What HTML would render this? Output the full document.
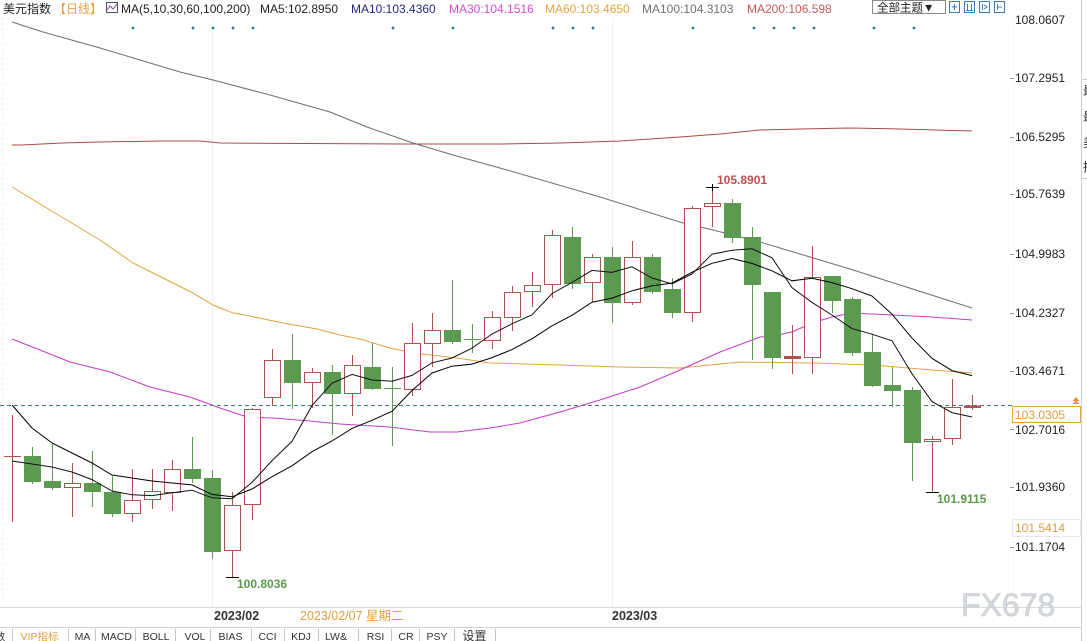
<!DOCTYPE html>
<html><head><meta charset="utf-8">
<style>
html,body{margin:0;padding:0;background:#fff;}
svg{display:block;}
text{font-family:"Liberation Sans","Noto Sans CJK SC",sans-serif;}
.r line,.r path{stroke:#b0524c;stroke-width:1;fill:none;}
.r rect{fill:#fff;stroke:#b0524c;stroke-width:1;}
.g line,.g path{stroke:#5c9a52;stroke-width:1;fill:none;}
.g rect{fill:#5c9a52;stroke:#5c9a52;stroke-width:1;}
.tab{font-family:"Liberation Mono","Noto Sans CJK SC",monospace;font-size:10.5px;fill:#333;}
</style></head>
<body>
<svg width="1087" height="641" viewBox="0 0 1087 641" xmlns="http://www.w3.org/2000/svg">
<rect width="1087" height="641" fill="#fff"/>

<!-- faint grid / separators -->
<line x1="2.5" y1="18" x2="2.5" y2="607" stroke="#e8e8e8" stroke-dasharray="2,3"/>
<line x1="212.5" y1="18" x2="212.5" y2="607" stroke="#f0f0f0"/>
<line x1="612.5" y1="18" x2="612.5" y2="607" stroke="#f0f0f0"/>
<line x1="1013.5" y1="18" x2="1013.5" y2="607" stroke="#e2e2e2" stroke-dasharray="1,3"/>

<!-- header -->
<text x="3" y="13" font-size="12" fill="#222">美元指数</text>
<text x="54" y="13" font-size="12" fill="#e8a040">【日线】</text>
<rect x="106.5" y="2.5" width="11" height="10" fill="#fff" stroke="#5a4a6a"/>
<polyline points="107,10 110,6 113,9 117,4" fill="none" stroke="#8a4a9a" stroke-width="1"/>
<text x="121" y="13" font-size="12" fill="#222">MA(5,10,30,60,100,200)</text>
<text x="260" y="13" font-size="12" fill="#222">MA5:102.8950</text>
<text x="351" y="13" font-size="12" fill="#25258a">MA10:103.4360</text>
<text x="449" y="13" font-size="12" fill="#d64cd6">MA30:104.1516</text>
<text x="545" y="13" font-size="12" fill="#e6a33e">MA60:103.4650</text>
<text x="642" y="13" font-size="12" fill="#707070">MA100:104.3103</text>
<text x="747" y="13" font-size="12" fill="#c85a5a">MA200:106.598</text>

<!-- top right buttons -->
<rect x="872.5" y="0.5" width="73" height="13" fill="#fff" stroke="#888"/>
<text x="877" y="11.5" font-size="11.5" fill="#222">全部主题▼</text>
<g fill="#fff" stroke="#3a7ab8">
<rect x="949.5" y="1.5" width="10" height="11"/>
<rect x="964.5" y="1.5" width="10" height="11"/>
<rect x="979.5" y="1.5" width="10" height="11"/>
<rect x="994.5" y="1.5" width="10" height="11"/>
</g>
<g stroke="#3a7ab8" stroke-width="1">
<line x1="952" y1="7" x2="957" y2="7"/><line x1="954.5" y1="4" x2="954.5" y2="10"/>
<line x1="967.5" y1="4" x2="967.5" y2="10"/><line x1="971.5" y1="4" x2="971.5" y2="10"/><line x1="966" y1="10.5" x2="973" y2="10.5"/>
<line x1="982.5" y1="4" x2="982.5" y2="10"/><polyline points="984,5 987,7 984,9" fill="none"/>
<line x1="997.5" y1="4" x2="997.5" y2="10"/><line x1="998" y1="7" x2="1002" y2="7"/>
</g>

<!-- event dots -->
<g fill="#2a7a9a">
<circle cx="133" cy="28" r="1.4"/><circle cx="193" cy="28" r="1.4"/><circle cx="213" cy="28" r="1.4"/><circle cx="233" cy="28" r="1.4"/><circle cx="253" cy="28" r="1.4"/><circle cx="393" cy="28" r="1.4"/><circle cx="453" cy="28" r="1.4"/><circle cx="553" cy="28" r="1.4"/><circle cx="573" cy="28" r="1.4"/><circle cx="593" cy="28" r="1.4"/><circle cx="693" cy="28" r="1.4"/><circle cx="754" cy="28" r="1.4"/><circle cx="774" cy="28" r="1.4"/><circle cx="794" cy="28" r="1.4"/><circle cx="814" cy="28" r="1.4"/><circle cx="874" cy="28" r="1.4"/><circle cx="914" cy="28" r="1.4"/>
</g>

<!-- MA200 -->
<polyline fill="none" stroke="#a84a44" stroke-width="1" points="12,145 22,145 62,143 100,142 163,141 200,141 220,143 400,144 500,144 560,143 620,141 680,137 720,134 760,130 800,129 850,128 900,129 972,131"/>
<!-- MA100 -->
<polyline fill="none" stroke="#6e6e6e" stroke-width="1" points="12,22 43,32 100,48 130,57 180,72 213,80 270,95 330,112 367,127 413,143 453,155 507,170 600,197 683,223 713,230 760,242 800,254 850,269 900,285 972,308"/>
<!-- MA60 -->
<polyline fill="none" stroke="#e2a23e" stroke-width="1" points="12,187 50,210 100,240 133,263 153,273 193,293 213,305 233,313 240,314 283,323 317,329 340,335 360,339 390,348 413,353 457,358 490,363 560,365 620,367 680,368 740,362 812,363 872,365 932,370 972,373"/>
<!-- MA30 -->
<polyline fill="none" stroke="#c63cc6" stroke-width="1" points="12,339 40,350 70,362 110,372 150,387 190,397 220,408 247,417 273,418 310,421 340,424 390,427 430,432 457,432 490,428 520,423 560,412 600,400 640,387 680,370 720,352 760,337 772,336 792,332 812,323 832,317 852,313 892,315 932,317 972,320"/>

<!-- last price dashed line -->
<line x1="0" y1="405.5" x2="1012" y2="405.5" stroke="#3a7a90" stroke-dasharray="4,3"/>

<!-- candles -->
<g class="r" shape-rendering="crispEdges">
<path d="M12.5 415V522"/><line x1="4" y1="456.5" x2="21" y2="456.5"/>
<path d="M72.5 463V517"/><rect x="64.5" y="483.5" width="16" height="4"/>
<path d="M132.5 469V522"/><rect x="124.5" y="500.5" width="16" height="13"/>
<path d="M152.5 469V509"/><rect x="144.5" y="491.5" width="16" height="8"/>
<path d="M172.5 460V511"/><rect x="164.5" y="469.5" width="16" height="23"/>
<path d="M232.5 492V577"/><rect x="224.5" y="505.5" width="16" height="45"/>
<path d="M252.5 408V520"/><rect x="244.5" y="409.5" width="16" height="95"/>
<path d="M272.5 349V406"/><rect x="264.5" y="360.5" width="16" height="37"/>
<path d="M312.5 368V408"/><rect x="304.5" y="372.5" width="16" height="10"/>
<path d="M352.5 355V416"/><rect x="344.5" y="365.5" width="16" height="28"/>
<path d="M412.5 323V396"/><rect x="404.5" y="343.5" width="16" height="46"/>
<path d="M432.5 313V367"/><rect x="424.5" y="330.5" width="16" height="13"/>
<path d="M492.5 311V349"/><rect x="484.5" y="317.5" width="16" height="23"/>
<path d="M512.5 286V331"/><rect x="504.5" y="292.5" width="16" height="25"/>
<path d="M532.5 272V307"/><rect x="524.5" y="285.5" width="16" height="6"/>
<path d="M552.5 230V298"/><rect x="544.5" y="235.5" width="16" height="49"/>
<path d="M592.5 254V302"/><rect x="584.5" y="257.5" width="16" height="25"/>
<path d="M632.5 241V305"/><rect x="624.5" y="257.5" width="16" height="45"/>
<path d="M692.5 206V322"/><rect x="684.5" y="208.5" width="16" height="104"/>
<path d="M712.5 187V227"/><rect x="704.5" y="203.5" width="16" height="3"/>
<path d="M792.5 325V374"/><rect x="784.5" y="356.5" width="16" height="2" style="fill:#b0524c"/>
<path d="M812.5 246V374"/><rect x="804.5" y="277.5" width="16" height="80"/>
<path d="M932.5 436V492"/><rect x="924.5" y="439.5" width="16" height="2"/>
<path d="M952.5 379V445"/><rect x="944.5" y="407.5" width="16" height="31"/>
<path d="M972.5 395V410"/><rect x="964.5" y="406" width="16" height="1.5" style="fill:#b0524c"/>
</g>
<g class="g" shape-rendering="crispEdges">
<path d="M32.5 447V484"/><rect x="24.5" y="456.5" width="16" height="25"/>
<path d="M52.5 444V490"/><rect x="44.5" y="481.5" width="16" height="6"/>
<path d="M92.5 451V507"/><rect x="84.5" y="483.5" width="16" height="8"/>
<path d="M112.5 476V517"/><rect x="104.5" y="492.5" width="16" height="21"/>
<path d="M192.5 437V483"/><rect x="184.5" y="469.5" width="16" height="9"/>
<path d="M212.5 470V559"/><rect x="204.5" y="478.5" width="16" height="73"/>
<path d="M292.5 334V409"/><rect x="284.5" y="360.5" width="16" height="22"/>
<path d="M332.5 365V435"/><rect x="324.5" y="372.5" width="16" height="21"/>
<path d="M372.5 343V390"/><rect x="364.5" y="367.5" width="16" height="21"/>
<path d="M392.5 367V446"/><line x1="384" y1="388.5" x2="401" y2="388.5"/>
<path d="M452.5 280V344"/><rect x="444.5" y="330.5" width="16" height="11"/>
<path d="M472.5 324V353"/><line x1="464" y1="339.5" x2="481" y2="339.5"/>
<path d="M572.5 227V289"/><rect x="564.5" y="237.5" width="16" height="46"/>
<path d="M612.5 247V323"/><rect x="604.5" y="257.5" width="16" height="45"/>
<path d="M652.5 254V294"/><rect x="644.5" y="257.5" width="16" height="34"/>
<path d="M672.5 278V318"/><rect x="664.5" y="289.5" width="16" height="23"/>
<path d="M732.5 199V243"/><rect x="724.5" y="203.5" width="16" height="34"/>
<path d="M752.5 227V360"/><rect x="744.5" y="237.5" width="16" height="47"/>
<path d="M772.5 292V369"/><rect x="764.5" y="292.5" width="16" height="65"/>
<path d="M832.5 276V313"/><rect x="824.5" y="276.5" width="16" height="24"/>
<path d="M852.5 297V356"/><rect x="844.5" y="299.5" width="16" height="53"/>
<path d="M872.5 334V387"/><rect x="864.5" y="352.5" width="16" height="33"/>
<path d="M892.5 367V407"/><rect x="884.5" y="385.5" width="16" height="5"/>
<path d="M912.5 387V481"/><rect x="904.5" y="390.5" width="16" height="52"/>
</g>

<!-- MA5 / MA10 -->
<polyline fill="none" stroke="#111" stroke-width="1" points="12,461 32,464 52,467 72,472 92,479.6 112,491 132,494.8 152,495.6 172,492.8 192,490.2 212,497.8 232,498.8 252,482.4 272,460.6 292,441.4 312,405.6 332,383.2 352,374.4 372,380 392,381.2 412,375.4 432,362.8 452,358 472,348.2 492,334 512,323.8 532,314.8 552,293.6 572,282.4 592,270.4 612,272.4 632,266.8 652,278 672,283.8 692,274 712,254.2 732,250.2 752,248.8 772,257.8 792,287.6 812,302.4 832,315 852,328.6 872,334.2 892,340.8 912,373.8 932,401.6 952,412.6 972,417"/>
<polyline fill="none" stroke="#000" stroke-width="1" points="12,405 32,428 52,443 72,453 92,463 112,475 132,478 152,481 172,483 192,484.9 212,494.4 232,496.8 252,489 272,476.7 292,465.8 312,451.7 332,441 352,428.4 372,420.3 392,411.3 412,390.5 432,373 452,366.2 472,364.1 492,357.6 512,349.6 532,338.8 552,325.8 572,315.3 592,302.2 612,298.1 632,290.8 652,285.8 672,283.1 692,272.2 712,263.3 732,258.5 752,263.4 772,270.8 792,280.8 812,278.3 832,282.6 852,288.7 872,296 892,314.2 912,338.1 932,358.3 952,370.6 972,375.6"/>

<!-- high/low markers -->
<g stroke="#000" stroke-width="1" shape-rendering="crispEdges">
<line x1="706" y1="187.5" x2="719" y2="187.5"/><line x1="712.5" y1="184" x2="712.5" y2="191"/>
<line x1="226" y1="577.5" x2="239" y2="577.5"/>
<line x1="926" y1="492.5" x2="939" y2="492.5"/>
</g>
<text x="717" y="184" font-size="12" font-weight="bold" fill="#c0504d">105.8901</text>
<text x="237" y="588" font-size="12" font-weight="bold" fill="#5a9a4a">100.8036</text>
<text x="937" y="503" font-size="12" font-weight="bold" fill="#5a9a4a">101.9115</text>

<!-- right axis -->
<g stroke="#999" shape-rendering="crispEdges">
<line x1="1010" y1="78.5" x2="1014" y2="78.5"/><line x1="1010" y1="137.5" x2="1014" y2="137.5"/><line x1="1010" y1="194.5" x2="1014" y2="194.5"/><line x1="1010" y1="254.5" x2="1014" y2="254.5"/><line x1="1010" y1="313.5" x2="1014" y2="313.5"/><line x1="1010" y1="371.5" x2="1014" y2="371.5"/><line x1="1010" y1="429.5" x2="1014" y2="429.5"/><line x1="1010" y1="487.5" x2="1014" y2="487.5"/><line x1="1010" y1="547.5" x2="1014" y2="547.5"/>
</g>
<g font-size="12" fill="#222">
<text x="1015" y="24">108.0607</text>
<text x="1015" y="82">107.2951</text>
<text x="1015" y="141">106.5295</text>
<text x="1015" y="198">105.7639</text>
<text x="1015" y="258">104.9983</text>
<text x="1015" y="317">104.2327</text>
<text x="1015" y="375">103.4671</text>
<text x="1015" y="434">102.7016</text>
<text x="1015" y="491">101.9360</text>
<text x="1015" y="551">101.1704</text>
</g>
<rect x="1012.5" y="406.5" width="68" height="16" fill="#fff" stroke="#e2a048"/>
<text x="1015" y="419" font-size="12" fill="#e09a45">103.0305</text>
<rect x="1012.5" y="519.5" width="68" height="17" fill="#fff" stroke="#e8e8e8"/>
<text x="1015" y="532" font-size="12" fill="#d9a03e">101.5414</text>
<g fill="#e09a3a">
<polygon points="1076,397 1072.5,401 1079.5,401"/>
<polygon points="1076,400 1072.5,404 1079.5,404"/>
</g>

<!-- right side panel -->
<line x1="1081.5" y1="0" x2="1081.5" y2="641" stroke="#cfcfcf"/>
<line x1="1082" y1="79.5" x2="1087" y2="79.5" stroke="#ccc"/>
<line x1="1082" y1="178.5" x2="1087" y2="178.5" stroke="#ccc"/>
<g font-size="12" fill="#333">
<text x="1083" y="95">最</text>
<text x="1083" y="121">最</text>
<text x="1083" y="147">美</text>
<text x="1083" y="171">振</text>
</g>

<!-- time axis -->
<line x1="0" y1="607.5" x2="1081" y2="607.5" stroke="#d8d8d8"/>
<line x1="0" y1="627.5" x2="1081" y2="627.5" stroke="#cfcfcf"/>
<text x="214" y="620" font-size="12.5" font-weight="bold" fill="#333">2023/02</text>
<text x="300" y="620" font-size="12.5" fill="#e0a040">2023/02/07 星期二</text>
<text x="612" y="620" font-size="12.5" font-weight="bold" fill="#333">2023/03</text>

<!-- watermark -->
<text x="961" y="616" font-size="32" fill="#d5d9de" stroke="#c3c8ce" stroke-width="0.6">FX678</text>

<!-- tabs -->
<g stroke="#c4c4c4" shape-rendering="crispEdges">
<line x1="12.5" y1="629" x2="12.5" y2="641"/><line x1="68.5" y1="629" x2="68.5" y2="641"/><line x1="95.5" y1="629" x2="95.5" y2="641"/><line x1="135.5" y1="629" x2="135.5" y2="641"/><line x1="175.5" y1="629" x2="175.5" y2="641"/><line x1="210.5" y1="629" x2="210.5" y2="641"/><line x1="251.5" y1="629" x2="251.5" y2="641"/><line x1="284.5" y1="629" x2="284.5" y2="641"/><line x1="318.5" y1="629" x2="318.5" y2="641"/><line x1="358.5" y1="629" x2="358.5" y2="641"/><line x1="391.5" y1="629" x2="391.5" y2="641"/><line x1="419.5" y1="629" x2="419.5" y2="641"/><line x1="454.5" y1="629" x2="454.5" y2="641"/><line x1="495.5" y1="629" x2="495.5" y2="641"/>
</g>
<g class="tab" text-anchor="middle">
<text x="0" y="640">数</text>
<text x="39.5" y="640" fill="#e0a040" style="fill:#e0a040">VIP指标</text>
<text x="82.5" y="640">MA</text>
<text x="116.5" y="640">MACD</text>
<text x="156" y="640">BOLL</text>
<text x="195" y="640">VOL</text>
<text x="230.5" y="640">BIAS</text>
<text x="267.5" y="640">CCI</text>
<text x="301" y="640">KDJ</text>
<text x="336" y="640">LW&amp;</text>
<text x="375.5" y="640">RSI</text>
<text x="406" y="640">CR</text>
<text x="437" y="640">PSY</text>
<text x="474.5" y="640" style="font-size:12px">设置</text>
</g>
</svg>
</body></html>
